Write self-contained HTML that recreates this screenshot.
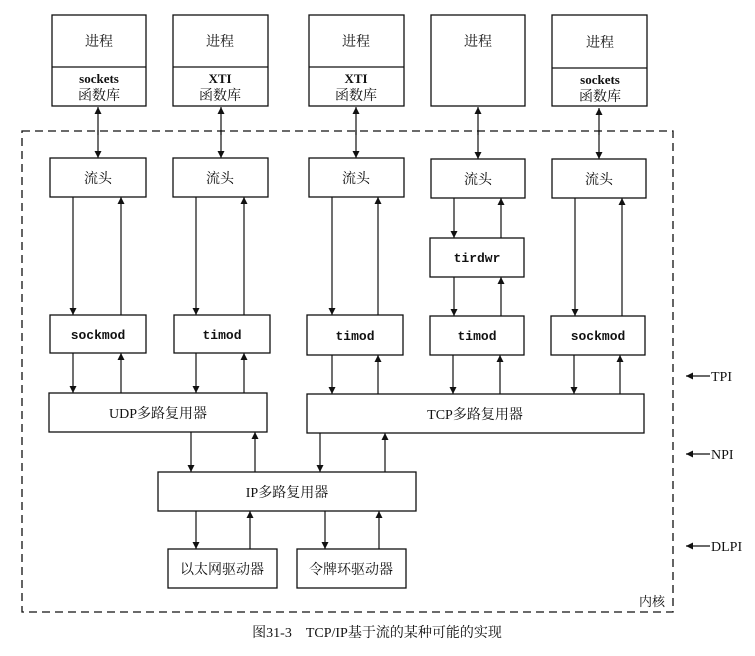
<!DOCTYPE html>
<html><head><meta charset="utf-8"><style>
body{margin:0;background:#fff}
svg text{font-family:"Liberation Serif","Noto Serif CJK SC","Noto Sans CJK SC",serif;fill:#111}
.m{font-family:"Liberation Mono","Noto Sans CJK SC",monospace!important;font-weight:bold}
</style></head><body>
<svg width="755" height="651" viewBox="0 0 755 651" xmlns="http://www.w3.org/2000/svg">
<defs><marker id="a" viewBox="0 0 10 10" refX="10" refY="5" markerWidth="7" markerHeight="9" markerUnits="userSpaceOnUse" orient="auto"><path d="M0,0L10,5L0,10z" fill="#111"/></marker></defs>
<g fill="none" stroke="#111" stroke-width="1.3">
<rect x="22" y="131" width="651" height="481" stroke-dasharray="8,5"/>
<rect x="52" y="15" width="94" height="91"/><line x1="52" y1="67" x2="146" y2="67"/>
<rect x="173" y="15" width="95" height="91"/><line x1="173" y1="67" x2="268" y2="67"/>
<rect x="309" y="15" width="95" height="91"/><line x1="309" y1="67" x2="404" y2="67"/>
<rect x="431" y="15" width="94" height="91"/>
<rect x="552" y="15" width="95" height="91"/><line x1="552" y1="68" x2="647" y2="68"/>
<rect x="50" y="158" width="96" height="39"/>
<rect x="173" y="158" width="95" height="39"/>
<rect x="309" y="158" width="95" height="39"/>
<rect x="431" y="159" width="94" height="39"/>
<rect x="552" y="159" width="94" height="39"/>
<rect x="430" y="238" width="94" height="39"/>
<rect x="50" y="315" width="96" height="38"/>
<rect x="174" y="315" width="96" height="38"/>
<rect x="307" y="315" width="96" height="40"/>
<rect x="430" y="316" width="94" height="39"/>
<rect x="551" y="316" width="94" height="39"/>
<rect x="49" y="393" width="218" height="39"/>
<rect x="307" y="394" width="337" height="39"/>
<rect x="158" y="472" width="258" height="39"/>
<rect x="168" y="549" width="109" height="39"/>
<rect x="297" y="549" width="109" height="39"/>
</g>
<g stroke="#111" stroke-width="1.2" marker-end="url(#a)">
<!-- bidir -->
<line x1="98" y1="130" x2="98" y2="158"/><line x1="98" y1="135" x2="98" y2="107"/>
<line x1="221" y1="130" x2="221" y2="158"/><line x1="221" y1="135" x2="221" y2="107"/>
<line x1="356" y1="130" x2="356" y2="158"/><line x1="356" y1="135" x2="356" y2="107"/>
<line x1="478" y1="130" x2="478" y2="159"/><line x1="478" y1="135" x2="478" y2="107"/>
<line x1="599" y1="130" x2="599" y2="159"/><line x1="599" y1="135" x2="599" y2="108"/>
<!-- head to module -->
<line x1="73" y1="197" x2="73" y2="315"/><line x1="121" y1="315" x2="121" y2="197"/>
<line x1="196" y1="197" x2="196" y2="315"/><line x1="244" y1="315" x2="244" y2="197"/>
<line x1="332" y1="197" x2="332" y2="315"/><line x1="378" y1="315" x2="378" y2="197"/>
<line x1="454" y1="198" x2="454" y2="238"/><line x1="501" y1="238" x2="501" y2="198"/>
<line x1="454" y1="277" x2="454" y2="316"/><line x1="501" y1="316" x2="501" y2="277"/>
<line x1="575" y1="198" x2="575" y2="316"/><line x1="622" y1="316" x2="622" y2="198"/>
<!-- module to mux -->
<line x1="73" y1="353" x2="73" y2="393"/><line x1="121" y1="393" x2="121" y2="353"/>
<line x1="196" y1="353" x2="196" y2="393"/><line x1="244" y1="393" x2="244" y2="353"/>
<line x1="332" y1="355" x2="332" y2="394"/><line x1="378" y1="394" x2="378" y2="355"/>
<line x1="453" y1="355" x2="453" y2="394"/><line x1="500" y1="394" x2="500" y2="355"/>
<line x1="574" y1="355" x2="574" y2="394"/><line x1="620" y1="394" x2="620" y2="355"/>
<!-- mux to ip -->
<line x1="191" y1="432" x2="191" y2="472"/><line x1="255" y1="472" x2="255" y2="432"/>
<line x1="320" y1="433" x2="320" y2="472"/><line x1="385" y1="472" x2="385" y2="433"/>
<!-- ip to drivers -->
<line x1="196" y1="511" x2="196" y2="549"/><line x1="250" y1="549" x2="250" y2="511"/>
<line x1="325" y1="511" x2="325" y2="549"/><line x1="379" y1="549" x2="379" y2="511"/>
<!-- interface labels -->
<line x1="710" y1="376" x2="686" y2="376"/>
<line x1="710" y1="454" x2="686" y2="454"/>
<line x1="710" y1="546" x2="686" y2="546"/>
</g>
<g font-size="14" text-anchor="middle">
<text x="99" y="46">进程</text><text x="220" y="46">进程</text><text x="356" y="46">进程</text><text x="478" y="46">进程</text><text x="600" y="47">进程</text>
<text x="99" y="83" font-size="13" font-weight="bold">sockets</text><text x="99" y="100">函数库</text>
<text x="220" y="83" font-size="13" font-weight="bold">XTI</text><text x="220" y="100">函数库</text>
<text x="356" y="83" font-size="13" font-weight="bold">XTI</text><text x="356" y="100">函数库</text>
<text x="600" y="84" font-size="13" font-weight="bold">sockets</text><text x="600" y="101">函数库</text>
<text x="98" y="183">流头</text><text x="220" y="183">流头</text><text x="356" y="183">流头</text><text x="478" y="184">流头</text><text x="599" y="184">流头</text>
<text class="m" x="477" y="262" font-size="13">tirdwr</text>
<text class="m" x="98" y="339" font-size="13">sockmod</text>
<text class="m" x="222" y="339" font-size="13">timod</text>
<text class="m" x="355" y="340" font-size="13">timod</text>
<text class="m" x="477" y="340" font-size="13">timod</text>
<text class="m" x="598" y="340" font-size="13">sockmod</text>
<text x="158" y="418">UDP多路复用器</text>
<text x="475" y="419">TCP多路复用器</text>
<text x="287" y="497">IP多路复用器</text>
<text x="222" y="574">以太网驱动器</text>
<text x="351" y="574">令牌环驱动器</text>
<text x="652" y="606" font-size="13">内核</text>
<text x="377" y="637" font-size="14">图31-3　TCP/IP基于流的某种可能的实现</text>
</g>
<g font-size="14">
<text x="711" y="381">TPI</text><text x="711" y="459">NPI</text><text x="711" y="551">DLPI</text>
</g>
</svg>
</body></html>
